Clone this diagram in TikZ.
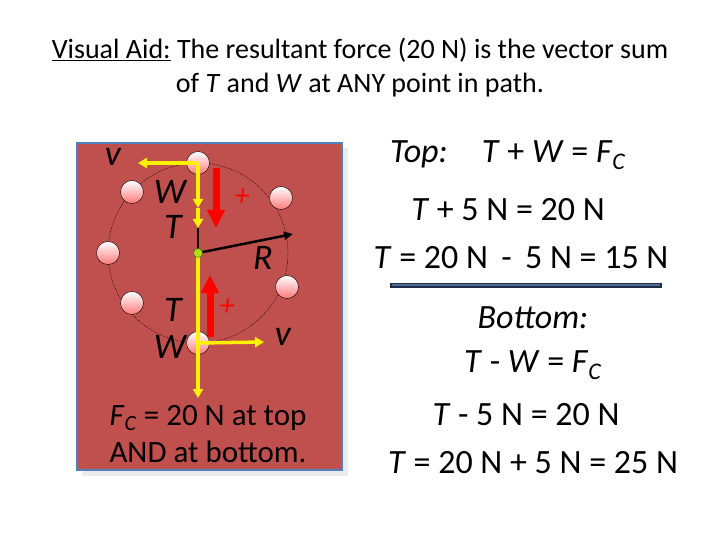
\documentclass[tikz,border=0pt]{standalone}
\usepackage{fontspec}
\setmainfont{Carlito}
\usetikzlibrary{arrows.meta}
\begin{document}
\begin{tikzpicture}[x=1pt,y=-1pt,
  ball/.style={circle,draw=black,thin,inner sep=0pt,minimum size=23pt,top color=white,bottom color=pink!40!red!75},
  yel/.style={draw=yellow,line width=3.5pt},
  yarr/.style={yel,-{Triangle[length=9pt,width=10pt]}},
  rarr/.style={draw=red,line width=7pt,-{Triangle[length=18pt,width=17pt]}},
  lab/.style={font=\fontsize{36}{38}\selectfont\itshape},
  eq/.style={font=\fontsize{34}{36}\selectfont},
  plus/.style={text=red,font=\fontsize{30}{32}\selectfont}]
\useasboundingbox (0,0) rectangle (720,540);
\fill[gray!15] (82,148) rectangle (348,476);
\filldraw[fill={rgb,255:red,192;green,80;blue,77},draw={rgb,255:red,79;green,129;blue,189},line width=2.5pt] (77,143) rectangle (342,470);
\node (t1) at (360,50) {\fontsize{28}{30}\selectfont\underline{Visual Aid:} The resultant force (20 N) is the vector sum};
\node (t2) at (360,85) {\fontsize{28}{30}\selectfont of \textit{T} and \textit{W} at ANY point in path.};
\coordinate (c) at (198,253);
\draw[dash pattern=on 1pt off 1pt,thin] (c) circle (90);
\coordinate (bot) at (198,398);
\node[ball] (b1) at (198,163) {};
\node[ball] (b2) at (198,343) {};
\node[ball] (b3) at (108,253) {};
\node[ball] (b4) at (132,192) {};
\node[ball] (b5) at (132,303) {};
\node[ball] (b6) at (281,198) {};
\node[ball] (b7) at (287,287) {};
\draw[yarr] (b1.center) -- (198,208);
\draw[yarr] (198,208) -- (198,228);
\draw[yel] (c) -- (b2.center);
\draw[yarr] (b2.center) -- (bot);
\draw[black,line width=2.5pt] (198,228) -- (c);
\draw[black,line width=2.5pt,-{Triangle[length=9pt,width=8pt]}] (c) -- (293,234);
\node[circle,fill=yellow!70!green,draw=green!50!black,inner sep=0pt,minimum size=9pt] (cd) at (c) {};
\draw[yarr] (b1.center) -- (138,163);
\draw[yarr] (b2.center) -- (264,342);
\draw[rarr] (216,168) -- (216,228);
\draw[rarr] (210,337) -- (210,275);
\node[lab] (lv1) at (113,157) {v};
\node[lab] (lw1) at (170,192) {W};
\node[lab] (lt1) at (173,227) {T};
\node[lab] (lr) at (263,258) {R};
\node[lab] (lt2) at (173,310) {T};
\node[lab] (lw2) at (170,347) {W};
\node[lab] (lv2) at (283,337) {v};
\node[plus] (p1) at (242,197) {\itshape +};
\node[plus] (p2) at (227,307) {\itshape +};
\node (f1) at (208,418) {\fontsize{31}{33}\selectfont\textit{F}\textsubscript{\textit{C}} = 20 N at top};
\node (f2) at (208,452) {\fontsize{31}{33}\selectfont AND at bottom.};
\node[eq] (e1) at (508,155) {\textit{Top:}\quad \textit{T} + \textit{W} = \textit{F}\textsubscript{\textit{C}}};
\node[eq] (e2) at (508,210) {\textit{T} + 5 N = 20 N};
\node[eq] (e3) at (521,258) {\textit{T} = 20 N \,-\, 5 N = 15 N};
\draw[draw={rgb,255:red,31;green,44;blue,70},line width=5pt] (390,285) -- (662,285);
\draw[draw={rgb,255:red,79;green,110;blue,150},line width=2pt] (392,285) -- (660,285);
\node[eq] (e4) at (533,318) {\textit{Bottom:}};
\node[eq] (e5) at (533,365) {\textit{T} - \textit{W} = \textit{F}\textsubscript{\textit{C}}};
\node[eq] (e6) at (526,415) {\textit{T} - 5 N = 20 N};
\node[eq] (e7) at (533,463) {\textit{T} = 20 N + 5 N = 25 N};
\end{tikzpicture}
\end{document}
